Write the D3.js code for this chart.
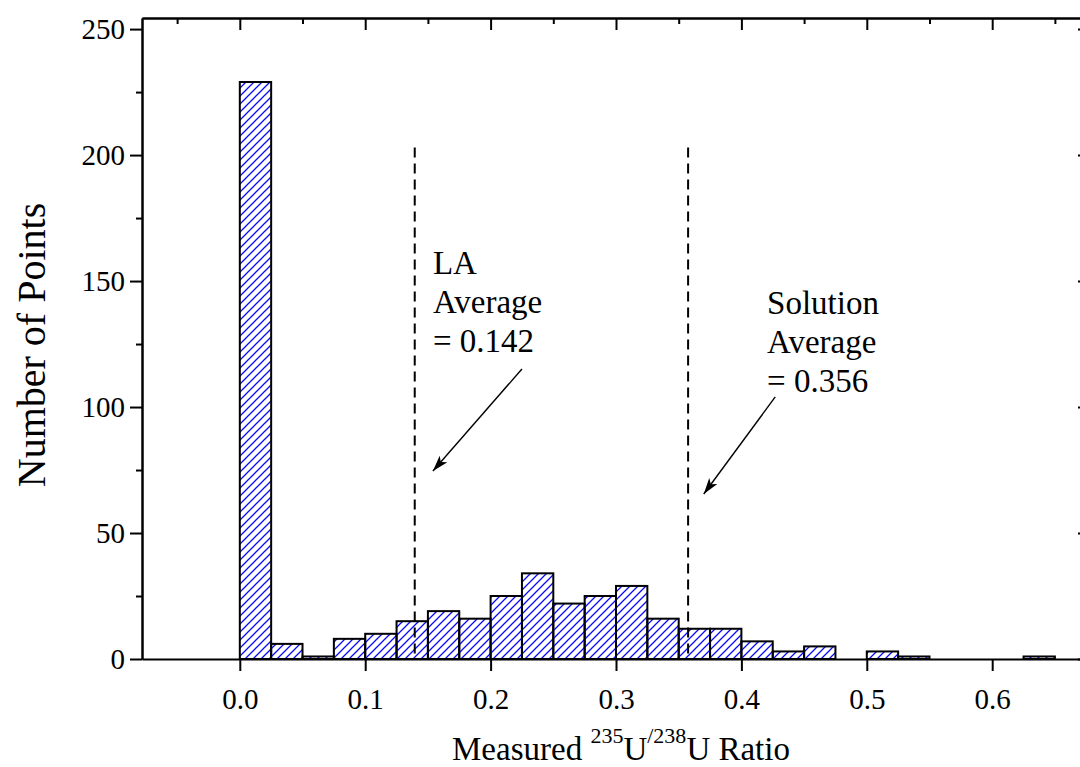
<!DOCTYPE html>
<html lang="en">
<head>
    <meta charset="UTF-8">
    <title>Measured 235U/238U Ratio Histogram</title>
    <script src="https://d3js.org/d3.v7.min.js"></script>
    <style>
        body { margin: 0; background: #fff; }
        svg { display: block; font-family: "Liberation Serif", "Times New Roman", serif; }
        .axis path, .axis line { stroke: #000; stroke-width: 2px; }
        .axis text { font-size: 29px; fill: #000; font-family: "Liberation Serif", serif; }
        .bar { stroke: #000; stroke-width: 2px; fill: url(#hatch); }
        .avg { stroke: #000; stroke-width: 2px; stroke-dasharray: 10 6; }
        .note { font-size: 33px; fill: #000; }
        .arrow { stroke: #000; stroke-width: 1.4px; fill: none; }
    </style>
</head>
<body>
    <svg id="chart" width="1080" height="767"></svg>

    <script>
        // Histogram data: bin start (ratio) and count, bin width 0.025
        const binWidth = 0.025;
        const binStarts = [0.000, 0.025, 0.050, 0.075, 0.100, 0.125, 0.150, 0.175, 0.200, 0.225,
                           0.250, 0.275, 0.300, 0.325, 0.350, 0.375, 0.400, 0.425, 0.450, 0.475,
                           0.500, 0.525, 0.550, 0.575, 0.600, 0.625];
        const counts    = [229, 6, 1, 8, 10, 15, 19, 16, 25, 34,
                           22, 25, 29, 16, 12, 12, 7, 3, 5, 0,
                           3, 1, 0, 0, 0, 1];

        const xMajorTicks = [0, 0.1, 0.2, 0.3, 0.4, 0.5, 0.6];
        const xMinorTicks = [-0.05, 0.05, 0.15, 0.25, 0.35, 0.45, 0.55, 0.65];
        const yMajorTicks = [0, 50, 100, 150, 200, 250];
        const yMinorTicks = [25, 75, 125, 175, 225];

        // averages (dashed lines) and their notes
        const averages = [
            { x: 0.1395, top: 203, lines: ["LA", "Average", "= 0.142"], tx: 0.154, ty: 152.8,
              arrow: [[0.225, 115.1], [0.154, 74.6]] },
            { x: 0.3575, top: 203, lines: ["Solution", "Average", "= 0.356"], tx: 0.4205, ty: 137.0,
              arrow: [[0.427, 104.0], [0.370, 65.5]] }
        ];

        const margin = { top: 18, left: 142 };
        const width = 948, height = 641;

        const svg = d3.select("#chart");

        const defs = svg.append("defs");
        defs.append("pattern")
            .attr("id", "hatch")
            .attr("patternUnits", "userSpaceOnUse")
            .attr("width", 8).attr("height", 8)
            .append("path")
            .attr("d", "M-2,2 l4,-4 M0,8 l8,-8 M6,10 l4,-4")
            .attr("stroke", "#0a0aff")
            .attr("stroke-width", 1.3);
        defs.append("marker")
            .attr("id", "head")
            .attr("viewBox", "0 0 16 10")
            .attr("refX", 16).attr("refY", 5)
            .attr("markerUnits", "userSpaceOnUse")
            .attr("markerWidth", 16).attr("markerHeight", 10)
            .attr("orient", "auto")
            .append("path")
            .attr("d", "M0,0 L16,5 L0,10 L4,5 Z")
            .attr("fill", "#000");

        const g = svg.append("g")
            .attr("transform", `translate(${margin.left},${margin.top})`);

        const x = d3.scaleLinear().domain([-0.078, 0.678]).range([0, width]);
        const y = d3.scaleLinear().domain([0, 254.4]).range([height, 0]);

        // bars
        const data = binStarts.map((b, i) => ({ b: b, v: counts[i] })).filter(d => d.v > 0);
        g.selectAll(".bar")
            .data(data)
            .enter()
            .append("rect")
            .attr("class", "bar")
            .attr("x", d => x(d.b))
            .attr("width", d => x(d.b + binWidth) - x(d.b))
            .attr("y", d => y(d.v))
            .attr("height", d => y(0) - y(d.v));

        // axes
        g.append("g").attr("class", "axis")
            .attr("transform", `translate(0,${height})`)
            .call(d3.axisBottom(x).tickValues(xMajorTicks).tickSize(12).tickSizeOuter(0)
                .tickPadding(17).tickFormat(d3.format(".1f")));

        g.append("g").attr("class", "axis")
            .call(d3.axisTop(x).tickValues(xMajorTicks).tickSize(-12).tickSizeOuter(0).tickFormat(""));
        g.append("g").attr("class", "axis")
            .call(d3.axisTop(x).tickValues(xMinorTicks).tickSize(-6).tickSizeOuter(0).tickFormat(""));

        g.append("g").attr("class", "axis")
            .call(d3.axisLeft(y).tickValues(yMajorTicks).tickSize(12).tickSizeOuter(0).tickPadding(5));
        g.append("g").attr("class", "axis")
            .call(d3.axisLeft(y).tickValues(yMinorTicks).tickSize(6).tickSizeOuter(0).tickFormat(""));

        g.append("g").attr("class", "axis")
            .attr("transform", `translate(${width},0)`)
            .call(d3.axisRight(y).tickValues(yMajorTicks).tickSize(-12).tickSizeOuter(0).tickFormat(""));
        g.append("g").attr("class", "axis")
            .attr("transform", `translate(${width},0)`)
            .call(d3.axisRight(y).tickValues(yMinorTicks).tickSize(-6).tickSizeOuter(0).tickFormat(""));

        // average lines, notes and arrows
        averages.forEach(a => {
            g.append("line")
                .attr("class", "avg")
                .attr("x1", x(a.x)).attr("x2", x(a.x))
                .attr("y1", y(a.top)).attr("y2", y(0));

            const t = g.append("text")
                .attr("class", "note")
                .attr("x", x(a.tx))
                .attr("y", y(a.ty));
            a.lines.forEach((s, i) => {
                t.append("tspan")
                    .attr("x", x(a.tx))
                    .attr("dy", i === 0 ? 0 : 39)
                    .text(s);
            });

            g.append("line")
                .attr("class", "arrow")
                .attr("x1", x(a.arrow[0][0])).attr("y1", y(a.arrow[0][1]))
                .attr("x2", x(a.arrow[1][0])).attr("y2", y(a.arrow[1][1]))
                .attr("marker-end", "url(#head)");
        });

        // axis titles
        svg.append("text")
            .attr("transform", "translate(45,345) rotate(-90)")
            .attr("text-anchor", "middle")
            .attr("font-size", 40)
            .text("Number of Points");

        const xt = svg.append("text")
            .attr("x", 621).attr("y", 760)
            .attr("text-anchor", "middle")
            .attr("font-size", 33);
        xt.append("tspan").text("Measured ");
        xt.append("tspan").attr("font-size", 22).attr("dy", -17).text("235");
        xt.append("tspan").attr("dy", 17).text("U");
        xt.append("tspan").attr("font-size", 22).attr("dy", -17).text("/238");
        xt.append("tspan").attr("dy", 17).text("U Ratio");
    </script>
</body>
</html>
